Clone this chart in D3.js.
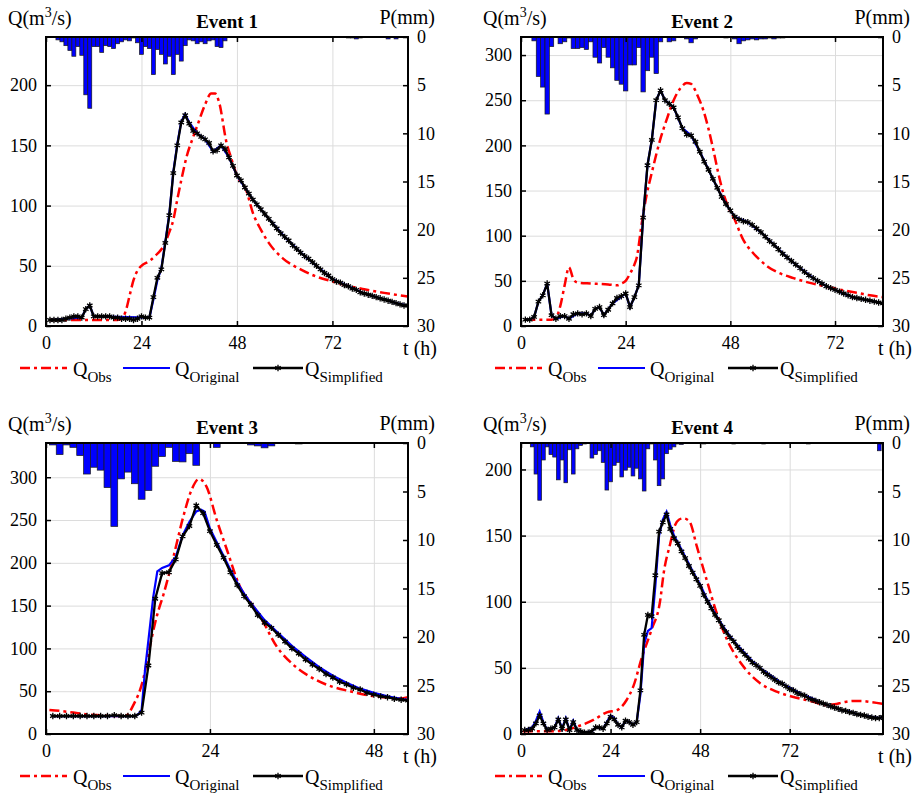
<!DOCTYPE html>
<html>
<head>
<meta charset="utf-8">
<script src="https://cdn.jsdelivr.net/npm/d3@7"></script>
<style>
body { margin: 0; background: #fff; }
text { font-family: "Liberation Serif", "Times New Roman", serif; fill: #000; }
</style>
</head>
<body>
<div id="chart"></div>
<script>
// ---- Event 1 ----
// rainfall, [hour, mm]
const e1Rain = [[3,0.3],[4,0.5],[5,0.9],[6,1.4],[7,2.0],[8,1.0],[9,1.9],[10,6.0],[11,7.4],[12,1.0],
  [13,1.0],[14,1.6],[15,0.9],[16,1.0],[17,1.2],[18,0.7],[19,0.5],[20,0.3],[21,0.4],[22,0.1],
  [23,0.6],[24,1.8],[25,1.0],[26,1.2],[27,3.9],[28,1.3],[29,1.8],[30,2.8],[31,2.0],[32,3.9],
  [33,1.8],[34,2.5],[35,0.9],[36,0.3],[37,0.4],[38,0.7],[39,0.5],[40,0.7],[41,0.4],[42,0.3],
  [43,1.0],[44,1.1],[45,0.4],[76,0.1],[77,0.1],[78,0.2],[79,0.1],[86,0.2],[88,0.2]];
// simplified model, hourly from t = 1 h
const e1Simplified = [5,5,5,5,6,7,8,8,7,14, 17,8,8,8,8,8,7,7,6,6, 6,5,6,8,7,7,24,40,47,69,
  92,127,150,169,175,168,162,160,157,155, 152,145,146,150,147,140,133,125,121,115,
  110,105,101,97,93,89,85,81,77,74, 71,67,64,61,58,56,53,50,47,44,
  42,39,37,36,34,33,31,30,28,27, 26,25,24,23,22,21,20,19,18,17, 17];
// original model, [hour, Q]
const e1Original = [[1,5],[9,7],[10,14],[11,17],[12,8],[26,7],[27,22],[28,38],[29,48],[30,70],
  [31,93],[32,128],[33,151],[34,170],[35,176],[36,169],[38,160],[40,155],[42,145],[44,150],
  [46,140],[48,125],[52,105],[56,89],[60,74],[64,61],[68,50],[72,39],[76,33],[80,27],
  [84,23],[88,19],[91,17]];
// observed, [hour, Q]
const e1Obs = [[1,5],[6,5],[10,5],[14,5],[18,5],[19,6],[20,12],[21,25],[22,38],[23,46],
  [24,50],[26,54],[28,60],[29.5,66],[31,78],[32,88],[33,105],[34,121],[35.3,140],[37,157],
  [38,166],[40,184],[41.5,193],[42.5,193],[43.5,186],[45.4,152],[46.5,140],[48,125],[50.4,112],
  [52,94],[54,80],[56,69],[59.6,56],[64,47],[68,41],[72,37],[76.4,33],[80,30.5],[85,27.5],[91,24.5]];

// ---- Event 2 ----
const e2Rain = [[3,0.4],[4,4.1],[5,5.2],[6,8.0],[7,1.0],[9,0.7],[10,0.5],[11,0.1],[12,1.2],[13,1.2],
  [14,1.1],[15,1.3],[16,0.5],[17,2.1],[18,2.7],[19,1.1],[20,2.1],[21,3.2],[22,4.5],[23,4.9],
  [24,5.6],[25,2.9],[26,2.9],[27,1.1],[28,5.7],[29,3.5],[30,2.1],[31,3.8],[32,0.5],[34,0.5],
  [35,0.4],[38,0.2],[39,0.6],[40,0.2],[47,0.1],[49,0.2],[50,0.7],[51,0.4],[52,0.3],[53,0.2],
  [54,0.3],[55,0.2],[56,0.2],[57,0.1],[58,0.2],[59,0.1],[60,0.1]];
const e2Simplified = [7,7,10,27,34,47,12,8,11,11, 8,13,14,13,14,11,19,21,12,18,
  25,31,33,36,21,32,45,120,178,206, 250,261,250,246,242,231,219,212,211,204,
  193,182,173,163,153,143,135,128,121,118, 116,115,112,108,104,99,94,90,85,80,
  76,72,68,64,60,56,53,50,47,44, 42,40,38,36,34,32,31,30,29,28, 27,26,25];
const e2Original = [[1,7],[2,7],[3,10],[4,27],[5,34],[6,47],[7,12],[8,8],[10,11],[11,8],
  [13,14],[15,14],[16,11],[17,19],[18,21],[19,12],[21,25],[24,36],[25,21],[26,32],[27,45],
  [28,120],[29,178],[30,206],[31,250],[32,261],[33,250],[35,242],[37,219],[39,211],[41,193],
  [43,173],[45,153],[47,135],[49,121],[52,115],[55,104],[58,90],[61,76],[64,64],[67,53],
  [70,44],[73,38],[76,32],[80,28],[83,25]];
const e2Obs = [[1,7],[4,7],[7,7],[8,9],[9,22],[10,45],[11,65],[12,52],[13,48],[16,47],
  [20,46],[22,45],[23,47],[24,50],[25,58],[26,68],[26.5,75],[27.7,114],[28.8,145],[30,170],
  [31.9,206],[33.5,230],[35,250],[36.5,263],[38,269],[39,268],[39.5,265],[40.5,255],[41.8,239],
  [43,218],[44.1,195],[45.2,170],[46.4,147],[47.5,132],[48.7,121],[51,95],[53,82],[54.8,73],
  [56.5,66],[58.6,60],[62.5,53],[66,48],[70,43.5],[74,39.5],[77.8,36],[80,34],[83,32]];

// ---- Event 3 ----
const e3Rain = [[1,0.2],[2,1.2],[3,0.2],[4,0.45],[5,1.3],[6,3.2],[7,2.5],[8,2.8],[9,4.6],[10,8.6],
  [11,3.7],[12,3.0],[13,4.2],[14,5.8],[15,4.9],[16,2.4],[17,1.4],[18,0.45],[19,1.9],[20,1.95],
  [21,1.1],[22,2.3],[25,0.45],[30,0.2],[31,0.3],[32,0.5],[33,0.3],[37,0.1]];
const e3Simplified = [21,21,21,21,21,21,21,21,21,22, 21,21,21,25,80,158,188,189,204,231,
  243,267,258,237,221,206,189,174,161,151, 139,130,124,116,108,100,94,87,81,76,
  70,66,61,58,54,52,48,46,44,43, 41,40,39];
const e3Original = [[1,21],[13,21],[13.5,23],[14,28],[14.5,75],[15,110],[15.7,160],[16.3,190],
  [17,194],[18,197],[19,207],[20,232],[21,248],[22,260],[22.7,262],[23.2,260],[24,240],[25,224],
  [26,208],[27,192],[28,177],[29,164],[30,153],[32,133],[34,118],[36,103],[38,90],[40,78],
  [42,68],[44,60],[46,53],[48,48],[50,44],[52,41],[53,40]];
const e3Obs = [[0.5,28],[2,27],[4,25],[6,23],[8,22],[10,21],[11,21],[11.8,22],[12.8,34],[14.2,63],
  [15.2,102],[16.2,137],[17.2,163],[18.6,205],[20.1,254],[21.3,285],[22.4,298],[23.5,289],
  [25,250],[26.5,215],[28.4,172],[30,153],[31.3,138],[33.8,102],[36.2,81],[39.6,63],[42,55],
  [44.5,50],[47,45.5],[49.5,43],[51.8,41.5],[53,43]];

// ---- Event 4 ----
const e4Rain = [[3,0.4],[4,3.2],[5,5.9],[6,1.75],[7,0.4],[8,1.2],[9,1.45],[10,3.8],[11,1.75],[12,4.1],
  [13,0.7],[14,3.2],[15,0.6],[16,0.25],[17,0.1],[19,1.55],[20,1.2],[21,0.8],[22,2.0],[23,4.85],
  [24,4.0],[25,2.3],[26,2.0],[27,3.5],[28,2.8],[29,2.5],[30,3.4],[31,2.6],[32,3.7],[33,4.95],
  [34,0.6],[35,0.1],[36,1.75],[37,4.4],[38,3.7],[39,1.1],[40,0.65],[41,0.4],[42,0.1],[43,0.15],
  [49,0.1],[57,0.1],[65,0.1],[77,0.1],[96,0.8]];
const e4Simplified = [3,3,4,8,14,8,3,4,5,11, 4,11,3,9,3,2,1,1,2,5, 5,4,8,13,11,7,5,10,9,7,
  9,33,75,90,89,120,153,160,166,155, 148,144,138,133,127,122,117,112,105,100,
  95,90,86,81,77,73,70,66,63,60, 57,54,52,50,47,45,43,41,39,38,
  36,34,33,31,30,29,27,26,25,24, 23,22,21,20,19,18,17.5,16.5,16,15, 14.5,14,13,12.5,12,12,13];
const e4Original = [[1,3],[3,5],[4,10],[5,17],[6,9],[7,3],[9,5],[10,12],[11,4],[12,12],[13,3],
  [14,10],[15,3],[17,1],[19,2],[20,5],[22,4],[23,9],[24,14],[25,12],[26,7],[27,5],[28,10],
  [29,9],[30,7],[31,9],[32,30],[33,68],[34,78],[35,80],[36,112],[37,150],[38,162],[39,168],
  [40,158],[41,150],[42,145],[44,134],[46,123],[48,113],[50,101],[52,91],[54,82],[56,74],
  [58,67],[60,61],[62,55],[64,50],[66,46],[68,42],[70,38],[72,35],[74,32],[76,29],[78,27],
  [80,24],[82,22],[84,20],[86,18],[88,17],[90,15],[92,14],[94,13],[96,12],[97,13]];
const e4Obs = [[0.5,2],[4,2],[8,2],[12,3],[15,5.5],[19.4,10.6],[23,16.4],[25.7,18],[28.3,25.7],
  [30.1,36],[32.4,58],[35,79],[37.3,101],[38.2,121],[40,144],[41.3,158],[42.3,162],[43.5,163],
  [44.6,162],[45.3,160],[47.1,142],[49.8,116],[52.5,91],[55.1,72],[59.6,51],[64,38.5],[68.5,32],
  [73,28],[77.5,25],[82,22],[84,22.5],[86.4,24],[89,25],[91,25],[94,24],[97,22.7]];

// axis ticks
const pTicks = [0, 5, 10, 15, 20, 25, 30];

const panels = [
  { title: "Event 1", left: 46, top: 37, h: 289, tMax: 91, qMax: 240,
    tTicks: [0, 24, 48, 72], qTicks: [0, 50, 100, 150, 200],
    rain: e1Rain, sim: e1Simplified, orig: e1Original, obs: e1Obs },
  { title: "Event 2", left: 521, top: 37, h: 289, tMax: 83, qMax: 320,
    tTicks: [0, 24, 48, 72], qTicks: [0, 50, 100, 150, 200, 250, 300],
    rain: e2Rain, sim: e2Simplified, orig: e2Original, obs: e2Obs },
  { title: "Event 3", left: 46, top: 443, h: 291, tMax: 53, qMax: 340,
    tTicks: [0, 24, 48], qTicks: [0, 50, 100, 150, 200, 250, 300],
    rain: e3Rain, sim: e3Simplified, orig: e3Original, obs: e3Obs },
  { title: "Event 4", left: 521, top: 443, h: 291, tMax: 97, qMax: 220,
    tTicks: [0, 24, 48, 72], qTicks: [0, 50, 100, 150, 200],
    rain: e4Rain, sim: e4Simplified, orig: e4Original, obs: e4Obs }
];

const W = 918, H = 795, PW = 362;
const RED = "#ff0000", BLUE = "#0000ff";

let svg = d3.select("#chart").append("svg")
  .attr("width", W).attr("height", H);

function drawPanel(cfg, idx) {
  const right = cfg.left + PW, bottom = cfg.top + cfg.h;
  const x = d3.scaleLinear().domain([0, cfg.tMax]).range([cfg.left, right]);
  const y = d3.scaleLinear().domain([0, cfg.qMax]).range([bottom, cfg.top]);
  const p = d3.scaleLinear().domain([0, 30]).range([cfg.top, bottom]);

  const g = svg.append("g");
  const clipId = "clip" + idx;
  g.append("clipPath").attr("id", clipId).append("rect")
    .attr("x", cfg.left).attr("y", cfg.top).attr("width", PW).attr("height", cfg.h);

  // gridlines
  g.append("g").attr("transform", `translate(0,${bottom})`)
    .call(d3.axisBottom(x).tickValues(cfg.tTicks.filter(t => t > 0)).tickSize(-cfg.h).tickFormat(""))
    .call(a => a.select(".domain").remove())
    .selectAll("line").attr("stroke", "#dcdcdc").attr("stroke-width", 1);
  g.append("g").attr("transform", `translate(${cfg.left},0)`)
    .call(d3.axisLeft(y).tickValues(cfg.qTicks.filter(q => q > 0)).tickSize(-PW).tickFormat(""))
    .call(a => a.select(".domain").remove())
    .selectAll("line").attr("stroke", "#dcdcdc").attr("stroke-width", 1);

  const plot = g.append("g").attr("clip-path", `url(#${clipId})`);

  // rainfall bars hanging from the top
  const bw = x(1) - x(0);
  plot.selectAll("rect.rain").data(cfg.rain).enter().append("rect")
    .attr("class", "rain")
    .attr("x", d => x(d[0]) - bw / 2)
    .attr("y", p(0))
    .attr("width", bw)
    .attr("height", d => p(d[1]) - p(0))
    .attr("fill", BLUE).attr("stroke", "#1a1a1a").attr("stroke-width", 0.7);

  const line = d3.line().x(d => x(d[0])).y(d => y(d[1]));
  const simPts = cfg.sim.map((v, i) => [i + 1, v]);

  plot.append("path").datum(cfg.obs)
    .attr("d", line.curve(d3.curveMonotoneX))
    .attr("fill", "none").attr("stroke", RED).attr("stroke-width", 2.5)
    .attr("stroke-dasharray", "10,4,3,4");
  line.curve(d3.curveLinear);
  plot.append("path").datum(cfg.orig)
    .attr("d", line)
    .attr("fill", "none").attr("stroke", BLUE).attr("stroke-width", 2.2);
  plot.append("path").datum(simPts)
    .attr("d", line)
    .attr("fill", "none").attr("stroke", "#000").attr("stroke-width", 2.3);
  const sym = d3.symbol().type(d3.symbolAsterisk).size(28);
  plot.selectAll("path.mk").data(simPts).enter().append("path")
    .attr("class", "mk")
    .attr("transform", d => `translate(${x(d[0])},${y(d[1])})`)
    .attr("d", sym).attr("fill", "none").attr("stroke", "#000").attr("stroke-width", 1.3);

  // axes, ticks pointing inward
  const styleAxis = a => {
    a.select(".domain").remove();
    a.selectAll("line").attr("stroke", "#000").attr("stroke-width", 1.5);
    a.selectAll("text").style("font-size", "18px")
      .style("font-family", '"Liberation Serif", "Times New Roman", serif');
  };
  g.append("g").attr("transform", `translate(0,${bottom})`)
    .call(d3.axisBottom(x).tickValues(cfg.tTicks).tickSize(-5).tickPadding(10))
    .call(styleAxis);
  g.append("g").attr("transform", `translate(0,${cfg.top})`)
    .call(d3.axisTop(x).tickValues(cfg.tTicks).tickSize(-5).tickFormat(""))
    .call(styleAxis);
  g.append("g").attr("transform", `translate(${cfg.left},0)`)
    .call(d3.axisLeft(y).tickValues(cfg.qTicks).tickSize(-5).tickPadding(9))
    .call(styleAxis);
  g.append("g").attr("transform", `translate(${right},0)`)
    .call(d3.axisRight(p).tickValues(pTicks).tickSize(-5).tickPadding(9))
    .call(styleAxis);

  // box
  g.append("rect").attr("x", cfg.left).attr("y", cfg.top)
    .attr("width", PW).attr("height", cfg.h)
    .attr("fill", "none").attr("stroke", "#000").attr("stroke-width", 2);

  // labels
  g.append("text").attr("x", (cfg.left + right) / 2).attr("y", cfg.top - 9)
    .attr("text-anchor", "middle").style("font-size", "19px").style("font-weight", "bold")
    .text(cfg.title);
  const ql = g.append("text").attr("x", cfg.left - 38).attr("y", cfg.top - 12)
    .style("font-size", "20px");
  ql.append("tspan").text("Q(m");
  ql.append("tspan").attr("dy", -8).style("font-size", "14px").text("3");
  ql.append("tspan").attr("dy", 8).text("/s)");
  g.append("text").attr("x", right + 27).attr("y", cfg.top - 13)
    .attr("text-anchor", "end").style("font-size", "20px").text("P(mm)");
  g.append("text").attr("x", right + 29).attr("y", bottom + 29)
    .attr("text-anchor", "end").style("font-size", "20px").text("t (h)");

  // legend
  const ly = bottom + 42;
  const items = [
    { sub: "Obs", x0: -26, x1: 21, tx: 27, color: RED, dash: "10,4,3,4", w: 2.5 },
    { sub: "Original", x0: 77, x1: 124, tx: 129, color: BLUE, dash: null, w: 2.2 },
    { sub: "Simplified", x0: 207, x1: 257, tx: 259, color: "#000", dash: null, w: 2.3, mark: true }
  ];
  items.forEach(it => {
    g.append("line")
      .attr("x1", cfg.left + it.x0).attr("x2", cfg.left + it.x1)
      .attr("y1", ly).attr("y2", ly)
      .attr("stroke", it.color).attr("stroke-width", it.w)
      .attr("stroke-dasharray", it.dash);
    if (it.mark) {
      g.append("path")
        .attr("transform", `translate(${cfg.left + (it.x0 + it.x1) / 2},${ly})`)
        .attr("d", sym).attr("fill", "none").attr("stroke", "#000").attr("stroke-width", 1.3);
    }
    const t = g.append("text").attr("x", cfg.left + it.tx).attr("y", ly + 8)
      .style("font-size", "20px");
    t.append("tspan").text("Q");
    t.append("tspan").attr("dy", 6).style("font-size", "15px").text(it.sub);
  });
}

panels.forEach(drawPanel);
</script>
</body>
</html>
